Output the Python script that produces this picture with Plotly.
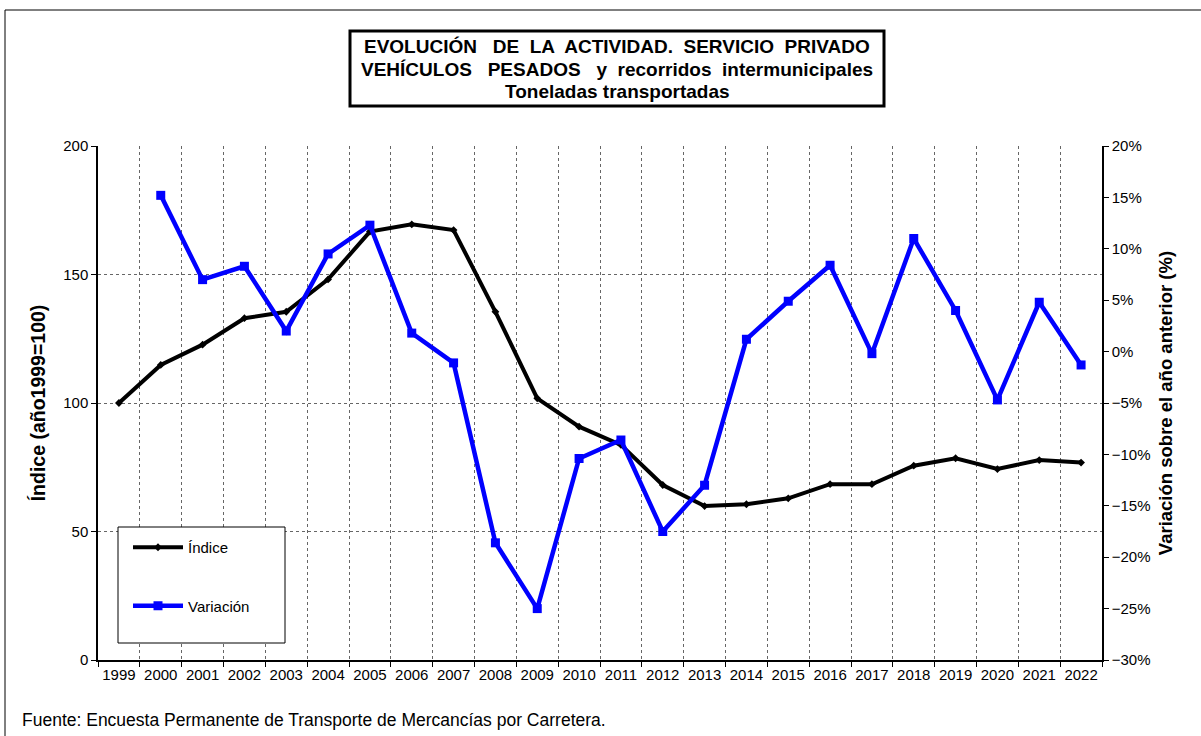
import plotly.graph_objects as go

years = [str(y) for y in range(1999, 2023)]
indice = [100, 114.8, 122.7, 133.0, 135.5, 148.1, 166.7, 169.5, 167.3, 135.5, 101.8,
          90.8, 83.7, 68.1, 59.9, 60.6, 62.9, 68.4, 68.4, 75.6, 78.5, 74.3, 77.8, 76.8]
var_years = years[1:]
variacion = [15.2, 7.0, 8.3, 2.0, 9.5, 12.3, 1.8, -1.1, -18.6, -25.0, -10.4, -8.6,
             -17.5, -13.0, 1.2, 4.9, 8.4, -0.2, 11.0, 4.0, -4.7, 4.8, -1.3]
title_lines = [
    "EVOLUCIÓN   DE  LA  ACTIVIDAD.  SERVICIO  PRIVADO",
    "VEHÍCULOS   PESADOS   y  recorridos  intermunicipales",
    "Toneladas transportadas",
]

FONT = "Liberation Sans, Arial, sans-serif"
W, H = 1201, 736
L, R, T, B = 98, 1102, 146, 660

def px(x):
    return (x - L) / (R - L)

def py(y):
    return (B - y) / (B - T)

fig = go.Figure()
fig.add_trace(go.Scatter(
    x=years, y=indice, name="Índice", mode="lines+markers",
    line=dict(color="black", width=4),
    marker=dict(symbol="diamond", size=6, color="black"),
    legendgroup="a", yaxis="y"))
fig.add_trace(go.Scatter(
    x=var_years, y=variacion, name="Variación", mode="lines+markers",
    line=dict(color="#0000FF", width=4.5),
    marker=dict(symbol="square", size=9, color="#0000FF"),
    legendgroup="b", yaxis="y2"))

GRID = "#666"
fig.update_layout(
    width=W, height=H,
    margin=dict(l=L, r=W - R, t=T, b=H - B, autoexpand=False),
    paper_bgcolor="white", plot_bgcolor="white",
    font=dict(family=FONT, color="black", size=14),
    showlegend=True,
    legend=dict(
        x=px(128), y=py(531), xanchor="left", yanchor="top",
        bgcolor="rgba(0,0,0,0)", borderwidth=0,
        font=dict(size=15, family=FONT),
        traceorder="grouped", tracegroupgap=36,
        itemwidth=50,
    ),
    xaxis=dict(
        type="category", categoryorder="array", categoryarray=years,
        range=[-0.5, len(years) - 0.5],
        tickson="boundaries", ticks="outside", ticklen=5, tickcolor="black",
        tickangle=0, automargin=False,
        showgrid=True, gridcolor=GRID, griddash="dot", gridwidth=1,
        showline=True, linecolor="black", linewidth=1.5,
        tickfont=dict(size=15, family=FONT), fixedrange=True,
    ),
    yaxis=dict(
        range=[0, 200], dtick=50, ticks="outside", ticklen=5, tickcolor="black",
        automargin=False,
        showgrid=True, gridcolor=GRID, griddash="dot", gridwidth=1,
        showline=True, linecolor="black", linewidth=1.5, zeroline=False,
        tickfont=dict(size=15, family=FONT),
        title=dict(text="<b>Índice (año1999=100)</b>", font=dict(size=19.5, family=FONT), standoff=12),
    ),
    yaxis2=dict(
        overlaying="y", side="right", range=[-30, 20], dtick=5, ticksuffix="%",
        ticks="outside", ticklen=5, tickcolor="black", automargin=False,
        showgrid=False, zeroline=False,
        showline=True, linecolor="black", linewidth=1.5,
        tickfont=dict(size=15, family=FONT),
        title=dict(text="<b>Variación sobre el año anterior (%)</b>", font=dict(size=18.5, family=FONT), standoff=10),
    ),
)

# outer frame
fig.add_shape(type="rect", xref="paper", yref="paper",
              x0=px(5), x1=px(1210), y0=py(745), y1=py(10),
              line=dict(color="black", width=1), layer="below")

# legend frame
fig.add_shape(type="rect", xref="paper", yref="paper",
              x0=px(118), x1=px(285), y0=py(643), y1=py(527),
              line=dict(color="black", width=1), fillcolor="white", layer="above")

# title box
fig.add_shape(type="rect", xref="paper", yref="paper",
              x0=px(350), x1=px(884), y0=py(106), y1=py(31),
              line=dict(color="black", width=3), fillcolor="white")
for line, yc in zip(title_lines, [46, 69, 92]):
    fig.add_annotation(
        xref="paper", yref="paper", x=px(617), y=py(yc),
        xanchor="center", yanchor="middle", showarrow=False,
        text="<b>" + line + "</b>",
        font=dict(size=19, family=FONT, color="black"),
    )

# source footnote
fig.add_annotation(
    xref="paper", yref="paper", x=px(20), y=py(720),
    xanchor="left", yanchor="middle", showarrow=False,
    text="Fuente: Encuesta Permanente de Transporte de Mercancías por Carretera.",
    font=dict(size=17.5, family=FONT, color="black"),
)

fig.write_html("out.html", config={"displayModeBar": False},
               post_script="document.body.style.margin='0';document.body.style.overflow='hidden';")
